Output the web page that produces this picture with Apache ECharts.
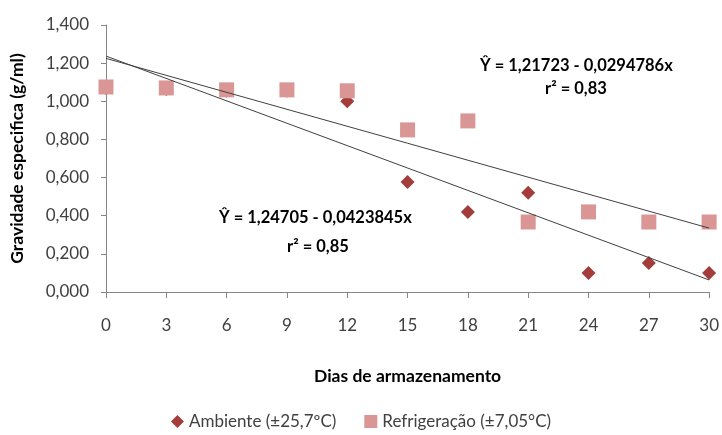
<!DOCTYPE html>
<html>
<head>
<meta charset="utf-8">
<script src="https://cdn.jsdelivr.net/npm/echarts@6/dist/echarts.min.js"></script>
<style>
  html, body { margin: 0; padding: 0; background: #fff; }
  #chart { width: 722px; height: 435px; }
</style>
</head>
<body>
<div id="chart"></div>
<script>
// dias de armazenamento
var days = [0, 3, 6, 9, 12, 15, 18, 21, 24, 27, 30]
// gravidade especifica (g/ml)
var ambiente = [1.07, 1.065, 1.055, 1.055, 1.0, 0.577, 0.42, 0.52, 0.1, 0.152, 0.1]
var refrigeracao = [1.075, 1.07, 1.06, 1.06, 1.055, 0.85, 0.897, 0.367, 0.42, 0.367, 0.367]
// trend lines as drawn (start / end)
var trendX = [0, 30]
var trendAmbiente = [1.237, 0.063]
var trendRefrig = [1.225, 0.335]
var eqRefrig = ['Ŷ = 1,21723 - 0,0294786x', 'r² = 0,83']
var eqAmbiente = ['Ŷ = 1,24705 - 0,0423845x', 'r² = 0,85']

var font = 'Lato, "Open Sans", sans-serif'
var pair = function (xs, ys) { return xs.map(function (x, i) { return [x, ys[i]] }) }

var chart = echarts.init(document.getElementById('chart'))
chart.setOption({
  animation: false,
  backgroundColor: '#fff',
  grid: { left: 106, right: 11, top: 25, bottom: 143 },
  legend: {
    bottom: 0,
    left: 'center',
    itemGap: 28,
    itemWidth: 13,
    itemHeight: 13,
    textStyle: { fontFamily: font, fontSize: 17, color: '#404040' },
    data: [
      { name: 'Ambiente (±25,7ºC)', icon: 'diamond' },
      { name: 'Refrigeração (±7,05°C)', icon: 'rect' }
    ]
  },
  xAxis: {
    type: 'value',
    min: 0,
    max: 30,
    interval: 3,
    name: 'Dias de armazenamento',
    nameLocation: 'middle',
    nameGap: 75,
    nameTextStyle: { fontFamily: font, fontSize: 17.5, fontWeight: 'bold', color: '#000' },
    axisLine: { show: true, lineStyle: { color: '#868686' } },
    axisTick: { show: true, length: 6, lineStyle: { color: '#868686' } },
    axisLabel: { margin: 25, fontFamily: font, fontSize: 17, color: '#404040' },
    splitLine: { show: false }
  },
  yAxis: {
    type: 'value',
    min: 0,
    max: 1.4,
    interval: 0.2,
    name: 'Gravidade especifica (g/ml)',
    nameLocation: 'middle',
    nameGap: 80,
    nameTextStyle: { fontFamily: font, fontSize: 17.5, fontWeight: 'bold', color: '#000' },
    axisLine: { show: true, lineStyle: { color: '#868686' } },
    axisTick: { show: true, length: 5, lineStyle: { color: '#868686' } },
    axisLabel: {
      margin: 17,
      fontFamily: font,
      fontSize: 17,
      color: '#404040',
      formatter: function (v) { return v.toFixed(3).replace('.', ',') }
    },
    splitLine: { show: false }
  },
  series: [
    {
      name: 'Ambiente (±25,7ºC)',
      type: 'scatter',
      symbol: 'diamond',
      symbolSize: 14,
      itemStyle: { color: '#A33D3B', opacity: 1 },
      data: pair(days, ambiente),
      z: 2
    },
    {
      name: 'Refrigeração (±7,05°C)',
      type: 'scatter',
      symbol: 'rect',
      symbolSize: 15,
      itemStyle: { color: '#D99694', opacity: 1 },
      data: pair(days, refrigeracao),
      z: 3
    },
    {
      type: 'line',
      symbol: 'none',
      silent: true,
      lineStyle: { color: '#404040', width: 1 },
      data: pair(trendX, trendAmbiente),
      z: 4
    },
    {
      type: 'line',
      symbol: 'none',
      silent: true,
      lineStyle: { color: '#404040', width: 1 },
      data: pair(trendX, trendRefrig),
      z: 4
    }
  ],
  graphic: [
    {
      type: 'text', left: 480, top: 57,
      style: { text: eqRefrig[0], font: 'bold 16.5px ' + font, fill: '#000' }
    },
    {
      type: 'text', left: 545, top: 80,
      style: { text: eqRefrig[1], font: 'bold 16.5px ' + font, fill: '#000' }
    },
    {
      type: 'text', left: 219, top: 209,
      style: { text: eqAmbiente[0], font: 'bold 16.5px ' + font, fill: '#000' }
    },
    {
      type: 'text', left: 287, top: 238,
      style: { text: eqAmbiente[1], font: 'bold 16.5px ' + font, fill: '#000' }
    }
  ]
})
</script>
</body>
</html>
